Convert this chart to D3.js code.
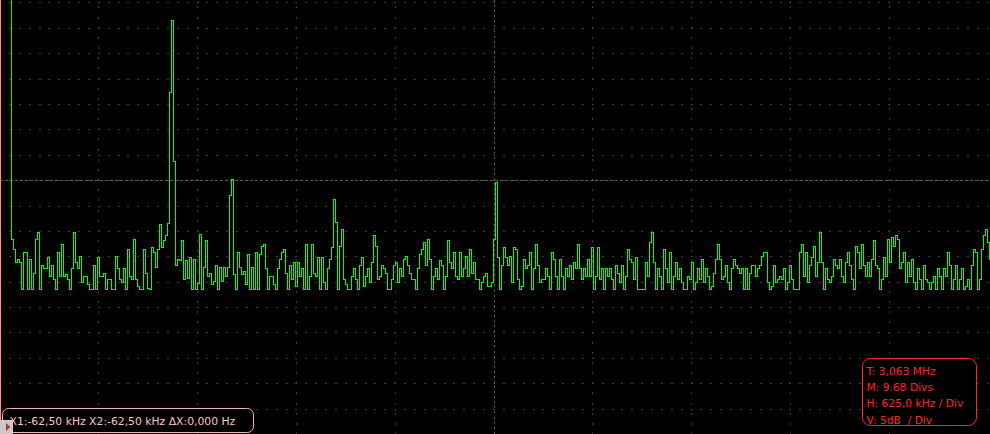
<!DOCTYPE html>
<html><head><meta charset="utf-8">
<script src="https://cdn.jsdelivr.net/npm/d3@7"></script>
<style>html,body{margin:0;padding:0;background:#000;overflow:hidden}svg{display:block}</style>
</head><body><svg id="c" width="990" height="434"></svg>
<script>
// FFT magnitude per bin (dB relative to top graticule line), 491 bins
const spectrumDb = [
0.4,
-23.3,-24.3,-25.6,-25.3,-25.6,-28.2,-24.6,-24.6,-28.2,-25.3,
-28.2,-26.6,-23.3,-22.6,-28.2,-25.9,-26.2,-26.2,-25.1,-26.9,
-25.9,-27.2,-28.2,-24.6,-26.9,-23.8,-26.9,-26.7,-27.2,-28.2,
-26.2,-22.6,-25.6,-26.2,-25.0,-27.5,-26.9,-26.9,-27.7,-28.2,
-28.2,-25.9,-28.2,-25.1,-26.9,-26.9,-26.6,-28.2,-27.2,-27.2,
-28.2,-28.2,-25.0,-26.2,-27.2,-27.5,-26.2,-28.2,-24.3,-26.9,
-27.2,-23.3,-27.2,-27.9,-28.2,
-28.2,-24.3,-26.6,-28.1,-28.2,-24.1,-24.6,-26.1,-24.3,-21.8,
-24.1,-23.4,-22.9,-21.7,-8.8,-1.75,-15.6,-25.9,-25.3,-25.4,
-23.4,-27.2,-25.4,-27.1,-25.1,-28.2,-25.3,-28.2,-27.6,-22.8,
-28.2,-26.1,-23.4,-26.9,-26.6,-27.7,-27.4,-25.9,-28.2,-26.1,
-27.4,-26.1,-26.9,-26.1,-19.0,-17.4,-26.7,-28.2,-24.6,-26.1,
-26.7,-26.4,-27.7,-24.8,-28.2,-26.1,-28.2,-24.6,-28.2,-24.8,
-24.0,-23.8,-26.2,-28.2,-26.9,-26.9,-27.7,-28.2,-26.2,-25.3,
-24.6,-24.3,-26.6,-28.2,-25.9,-27.2,-25.6,-27.9,-25.6,-26.9,
-26.2,-28.2,-23.8,-28.2,-26.9,-23.8,-26.6,-26.9,-25.1,-28.2,
-25.1,-27.5,-28.2,-26.2,-25.3,-24.1,-19.4,-21.6,-28.2,-24.0,
-22.3,-27.2,-27.7,-28.2,-28.2,-26.9,-26.2,-27.2,-28.2,-25.9,
-25.1,-27.9,-26.9,-26.2,-27.5,-25.6,-22.9,-24.0,-27.2,-26.9,
-25.9,-26.2,-26.6,-28.2,-28.2,-27.2,-25.9,-25.6,-27.5,-26.2,
-26.9,-25.3,-25.0,-25.9,-26.6,-27.2,-27.2,-28.2,-26.2,-24.8,
-24.3,-23.6,-25.9,-23.3,-25.3,-28.2,-26.9,-26.2,-27.2,-25.4,
-25.9,-28.2,-26.9,-23.4,-25.6,-26.2,-24.6,-26.9,-27.2,-24.6,
-26.9,-26.2,-25.0,-26.9,-24.3,-26.6,-25.6,-27.2,-27.2,-28.2,
-27.5,-26.9,-26.6,-27.9,-27.9,-27.5,-23.3,-17.7,
-25.1,-28.2,-25.9,-24.1,-25.1,-25.9,-25.0,-27.5,-24.1,-24.3,
-27.2,-28.2,-27.9,-25.3,-26.2,-25.9,-24.6,-28.2,-26.2,-23.8,
-25.9,-27.5,-27.2,-27.2,-26.2,-26.9,-28.2,-24.6,-25.3,-26.9,
-28.2,-25.3,-26.9,-28.2,-26.2,-26.9,-25.9,-27.2,-25.6,-26.2,
-23.8,-26.2,-27.2,-26.2,-26.9,-25.3,-26.9,-24.1,-28.2,-26.9,
-24.1,-27.2,-26.2,-28.2,-26.2,-26.9,-26.2,-27.2,-28.2,-25.9,
-26.6,-27.5,-25.9,-28.2,-26.9,-24.3,-25.3,-25.6,-27.2,-25.1,
-28.2,-28.2,-28.2,-28.2,-25.6,-26.9,-23.6,-22.6,-25.6,-28.2,
-26.2,-26.9,-28.2,-24.3,-26.2,-27.5,-24.6,-28.2,-26.9,-25.6,
-27.2,-26.2,-27.5,-28.2,-28.2,-26.9,-27.2,-25.6,-28.2,-27.5,
-26.2,-27.2,-25.3,-27.5,-26.2,-26.9,-28.2,-27.9,-26.6,-25.3,
-23.8,-25.3,-27.2,-26.9,-25.9,-27.5,-28.2,-26.2,-25.3,-25.9,
-26.2,-26.6,
-26.2,-28.2,-26.2,-28.2,-26.6,-25.9,-25.9,-26.9,-26.2,-25.9,
-25.0,-24.6,-24.6,-27.5,-28.2,-27.9,-25.9,-27.5,-27.2,-26.9,
-27.2,-26.2,-28.2,-27.5,-25.9,-27.2,-28.2,-28.2,-28.2,-24.6,
-23.8,-26.9,-24.6,-27.5,-25.9,-25.1,-24.0,-26.9,-25.6,-22.6,
-25.6,-28.2,-26.2,-27.2,-27.5,-26.9,-25.3,-25.9,-26.2,-25.3,
-26.9,-27.5,-25.6,-24.6,-25.9,-27.2,-28.2,-24.0,-24.6,-26.2,
-23.8,-25.9,-26.9,-25.6,-26.9,-25.3,-23.4,-25.9,-26.2,-28.2,
-27.2,-25.1,-26.9,-23.3,-25.6,-23.1,-24.0,-22.9,-23.3,-26.2,
-25.6,-24.6,-27.5,-25.6,-26.9,-25.3,-27.5,-28.2,-26.2,-27.2,
-28.2,-25.9,-27.2,-27.5,-28.2,-27.5,-26.9,-28.2,-26.2,-26.9,
-28.2,-26.2,-26.9,-24.6,-25.9,-28.2,-27.2,-25.9,-28.2,-27.2,
-26.2,-28.2,-27.9,-27.2,-28.2,-25.9,-24.3,-24.6,-28.2,-27.2,
-24.3,-22.9,-22.3,-23.6,-25.3
];
const gridRowsDb = [0,-2.5,-5,-7.5,-10,-12.5,-15,-17.5,-20,-22.5,-25,-27.5,-30,-32.5,-35,-37.5,-40,-42.5];
const divisions = [1,2,3,4,5,6,7,8,9];
const markerDb = -17.5;
const infoLines = ["T: 3,063 MHz","M: 9.68 Divs","H: 625,0 kHz / Div","V: 5dB\u00a0 / Div"];
const cursorReadout = "X1:-62,50 kHz X2:-62,50 kHz \u0394X:0,000 Hz";

const W = 990, H = 434;
const svg = d3.select("#c");
svg.append("rect").attr("width", W).attr("height", H).attr("fill", "#000");

const y = d3.scaleLinear().domain([0, -40]).range([2.3, 2.3 + 406.4]);
const x = d3.scaleLinear().domain([0, spectrumDb.length - 1]).range([9, 989]);
const xDiv = d3.scaleLinear().domain([0, 10]).range([0, 988]);
const py = v => Math.round(y(v)) + 0.5;

const grid = svg.append("g").attr("shape-rendering", "crispEdges");
// horizontal dotted rows
grid.selectAll("line.row").data(gridRowsDb).join("line")
  .attr("x1", 0).attr("x2", W)
  .attr("y1", d => py(d)).attr("y2", d => py(d))
  .attr("stroke", "#33463a").attr("stroke-width", 1)
  .attr("stroke-dasharray", "2," + (9.88 - 2)).attr("stroke-dashoffset", 1);
// vertical dotted division lines
grid.selectAll("line.col").data(divisions.filter(d => d !== 5)).join("line")
  .attr("x1", d => Math.floor(xDiv(d)) + 0.5).attr("x2", d => Math.floor(xDiv(d)) + 0.5)
  .attr("y1", 0).attr("y2", H)
  .attr("stroke", "#33463a").attr("stroke-width", 1)
  .attr("stroke-dasharray", "2," + (10.16 - 2)).attr("stroke-dashoffset", -6.4);
// centre vertical line
const cx = Math.floor(xDiv(5)) + 0.5;
grid.append("line").attr("x1", cx).attr("x2", cx).attr("y1", 0).attr("y2", H)
  .attr("stroke", "#55705a").attr("stroke-dasharray", "2,8.16");
grid.append("line").attr("x1", cx).attr("x2", cx).attr("y1", 0).attr("y2", H)
  .attr("stroke", "#6a526a").attr("stroke-dasharray", "2,8.16").attr("stroke-dashoffset", -5.08);
// horizontal marker line
grid.append("line").attr("x1", 0).attr("x2", W).attr("y1", py(markerDb)).attr("y2", py(markerDb))
  .attr("stroke", "#545e56").attr("stroke-dasharray", "3,2");

// edge ticks
const tickDb = d3.range(0, -86).map(k => k * 0.5);
grid.selectAll("line.lt").data(tickDb).join("line")
  .attr("x1", 1).attr("x2", (d, i) => i % 5 === 0 ? 5 : 3.5)
  .attr("y1", d => py(d)).attr("y2", d => py(d))
  .attr("stroke", "#8a8a8a");
grid.selectAll("line.rt").data(tickDb).join("line")
  .attr("x1", (d, i) => i % 5 === 0 ? 984 : 985.5).attr("x2", 989)
  .attr("y1", d => py(d)).attr("y2", d => py(d))
  .attr("stroke", "#4a4a4a");
grid.append("line").attr("x1", 0.5).attr("x2", 0.5).attr("y1", 0).attr("y2", H)
  .attr("stroke", "#ff8f8f");

// trace
const line = d3.line()
  .x((d, i) => Math.round(x(i)) + 0.5)
  .y(d => py(d))
  .curve(d3.curveStepAfter);
svg.append("path").datum(spectrumDb)
  .attr("d", line).attr("fill", "none")
  .attr("stroke", "#00ff00").attr("stroke-width", 1)
  .attr("shape-rendering", "crispEdges");

// info box (bottom right)
const info = svg.append("g");
info.append("rect").attr("x", 862.5).attr("y", 358.5).attr("width", 114).attr("height", 67)
  .attr("rx", 8).attr("fill", "#000").attr("stroke", "#ff2626");
info.selectAll("text").data(infoLines).join("text")
  .attr("x", 866.5).attr("y", (d, i) => 375 + i * 16.2)
  .attr("fill", "#ff2626").attr("font-family", "DejaVu Sans").attr("font-size", 10.7)
  .text(d => d);

// cursor readout (bottom left)
const cur = svg.append("g");
cur.append("rect").attr("x", 2.5).attr("y", 408.5).attr("width", 251).attr("height", 24)
  .attr("rx", 6).attr("fill", "#000").attr("stroke", "#f0b0b0");
cur.append("text").attr("x", 9.5).attr("y", 425)
  .attr("fill", "#f6c6c6").attr("font-family", "DejaVu Sans").attr("font-size", 10.8)
  .text(cursorReadout);
cur.append("rect").attr("x", 0).attr("y", 420).attr("width", 13).attr("height", 14).attr("fill", "#d2c6c6");
cur.append("path").attr("d", "M6,423 L6,431 L10.5,427 Z").attr("fill", "#9c3c3c");
</script>
</body></html>
